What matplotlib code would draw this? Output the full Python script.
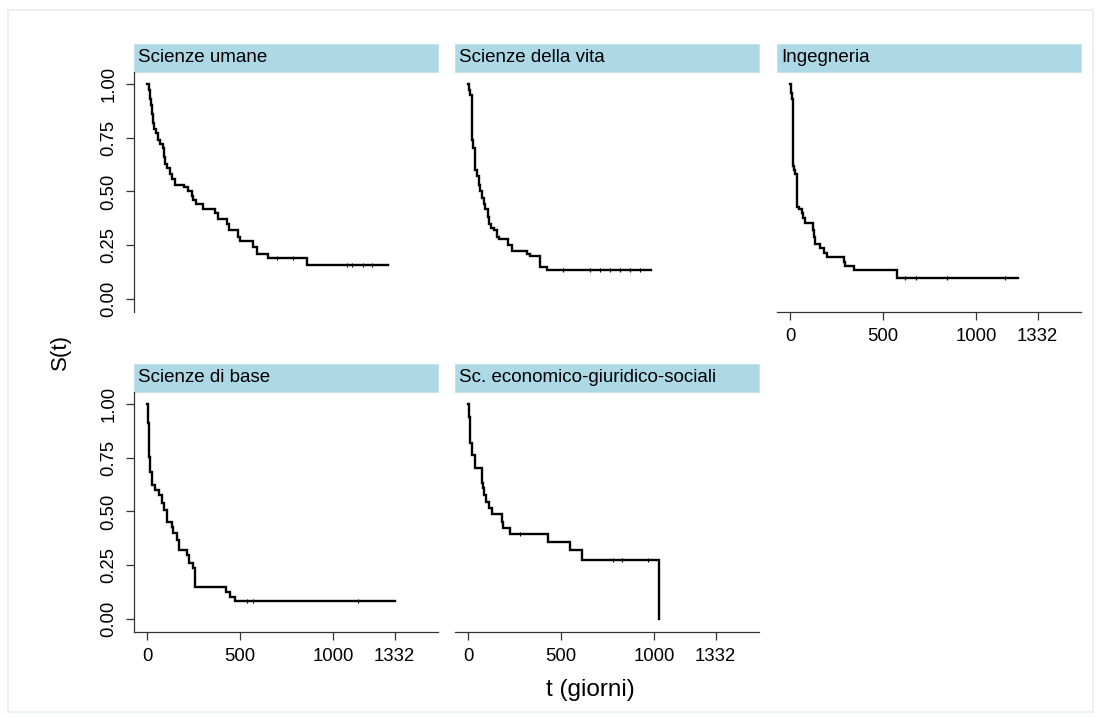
import numpy as np
import matplotlib.pyplot as plt
from matplotlib.patches import Rectangle

plt.rcParams['font.family'] = ['Liberation Sans', 'DejaVu Sans']

#=========================================================================
# Kaplan-Meier estimates: time of each drop and S(t) after it

groups = ['Scienze umane', 'Scienze della vita', 'Ingegneria',
          'Scienze di base', 'Sc. economico-giuridico-sociali']

umane_t = [0, 8, 15, 22, 28, 33, 38, 50, 58, 70, 85, 92, 98, 110, 125, 135, 150,
           200, 220, 240, 250, 265, 300, 365, 380, 430, 440, 490, 500, 570, 590, 650, 862]
umane_s = [1.0, 0.97, 0.93, 0.90, 0.86, 0.82, 0.79, 0.77, 0.74, 0.72, 0.70, 0.66, 0.63,
           0.61, 0.58, 0.56, 0.53, 0.52, 0.50, 0.48, 0.46, 0.44, 0.42, 0.40, 0.37, 0.35,
           0.32, 0.29, 0.27, 0.24, 0.21, 0.19, 0.16]
umane_cens = [697, 786, 1074, 1101, 1164, 1208]
umane_end = 1297

vita_t = [0, 5, 12, 20, 28, 35, 40, 50, 58, 65, 75, 85, 92, 105, 115, 122, 140, 155,
          165, 215, 235, 315, 333, 387, 423]
vita_s = [1.0, 0.97, 0.95, 0.74, 0.70, 0.67, 0.60, 0.57, 0.53, 0.50, 0.47, 0.44, 0.42,
          0.38, 0.35, 0.33, 0.32, 0.29, 0.28, 0.25, 0.225, 0.21, 0.20, 0.15, 0.135]
vita_cens = [512, 656, 710, 764, 817, 871, 925]
vita_end = 982

ing_t = [0, 5, 12, 14, 20, 25, 36, 39, 50, 63, 72, 81, 122, 128, 134, 161, 183, 197,
         290, 295, 346, 573]
ing_s = [1.0, 0.96, 0.93, 0.62, 0.60, 0.58, 0.55, 0.43, 0.42, 0.40, 0.375, 0.355, 0.32,
         0.29, 0.256, 0.236, 0.215, 0.197, 0.174, 0.153, 0.135, 0.096]
ing_cens = [618, 677, 842, 1156]
ing_end = 1227

base_t = [0, 7, 12, 16, 25, 43, 66, 79, 91, 106, 133, 142, 163, 174, 217, 227, 249,
          258, 425, 446, 473]
base_s = [1.0, 0.91, 0.755, 0.685, 0.623, 0.60, 0.577, 0.538, 0.507, 0.453, 0.43, 0.40,
          0.367, 0.321, 0.298, 0.259, 0.236, 0.150, 0.127, 0.104, 0.085]
base_cens = [536, 568, 1136]
base_end = 1332

eco_t = [0, 7, 11, 23, 38, 73, 79, 86, 97, 115, 127, 181, 190, 226, 432, 548, 615, 1029]
eco_s = [1.0, 0.94, 0.817, 0.763, 0.70, 0.631, 0.608, 0.577, 0.546, 0.515, 0.487, 0.453,
         0.422, 0.395, 0.36, 0.321, 0.274, 0.0]
eco_cens = [280, 781, 826, 969]
eco_end = 1029

x_ticks = [0, 500, 1000, 1332]
y_ticks = [0, 0.25, 0.5, 0.75, 1.0]
y_labels = ['0.00', '0.25', '0.50', '0.75', '1.00']

#=========================================================================

W, H = 1101, 717
fig = plt.figure(figsize=(W / 100, H / 100), dpi=100)

# light outer frame like the Stata graph region
fig.patches.append(Rectangle((8 / W, 5 / H), (W - 16) / W, (H - 15) / H,
                             transform=fig.transFigure, fill=False,
                             edgecolor='#e6eff1', lw=1.2))

panels = [(umane_t, umane_s, umane_cens, umane_end),
          (vita_t, vita_s, vita_cens, vita_end),
          (ing_t, ing_s, ing_cens, ing_end),
          (base_t, base_s, base_cens, base_end),
          (eco_t, eco_s, eco_cens, eco_end)]

# pixel boxes (left, top) of each plot region, all 304 x 240
corners = [(134, 72), (455, 72), (777, 72), (134, 392), (455, 392)]
show_y = [True, False, False, True, False]
show_x = [False, False, True, True, True]
pw, ph, strip_h = 304, 240, 28

for i, (name, (t, s, cens, t_end)) in enumerate(zip(groups, panels)):
    left, top = corners[i]
    ax = fig.add_axes([left / W, (H - top - ph) / H, pw / W, ph / H])
    ax.patch.set_visible(False)

    t = np.array(t, dtype=float)
    s = np.array(s, dtype=float)
    ax.step(np.r_[t, t_end], np.r_[s, s[-1]], where='post', color='black', lw=1.7,
            solid_joinstyle='miter')
    # censored times: tiny ticks on the curve
    idx = np.searchsorted(t, cens, side='right') - 1
    ax.plot(cens, s[idx], ls='none', marker='|', ms=2.5, mew=0.8, color='black')

    ax.set_xlim(-70, 1565)
    ax.set_ylim(-0.0605, 1.0558)

    for side in ['top', 'right']:
        ax.spines[side].set_visible(False)
    ax.spines['left'].set_visible(show_y[i])
    ax.spines['bottom'].set_visible(show_x[i])
    for side in ['left', 'bottom']:
        ax.spines[side].set_color('#333333')
        ax.spines[side].set_linewidth(0.9)

    ax.tick_params(axis='both', direction='out', length=5.8, width=0.9,
                   color='#333333', labelsize=13.3, labelcolor='black')
    if show_y[i]:
        ax.set_yticks(y_ticks)
        ax.set_yticklabels(y_labels, rotation=90, va='center')
        ax.tick_params(axis='y', pad=6)
    else:
        ax.set_yticks([])
    if show_x[i]:
        ax.set_xticks(x_ticks)
        ax.tick_params(axis='x', pad=6)
    else:
        ax.set_xticks([])

    # strip on top of each panel
    ax.add_patch(Rectangle((0, 1), 1, strip_h / ph, transform=ax.transAxes,
                           facecolor='#add8e6', edgecolor='#c6e3ec', lw=0.8,
                           clip_on=False))
    ax.text(4 / pw, 1 + strip_h / 2 / ph, name, transform=ax.transAxes,
            ha='left', va='center', fontsize=13.5, color='black')

fig.text(60 / W, 1 - 352 / H, 'S(t)', rotation=90, ha='center', va='center',
         fontsize=16, color='black')
fig.text(590 / W, 1 - 690 / H, 't (giorni)', ha='center', va='center',
         fontsize=17.5, color='black')

fig.savefig('out.png', dpi=100)
